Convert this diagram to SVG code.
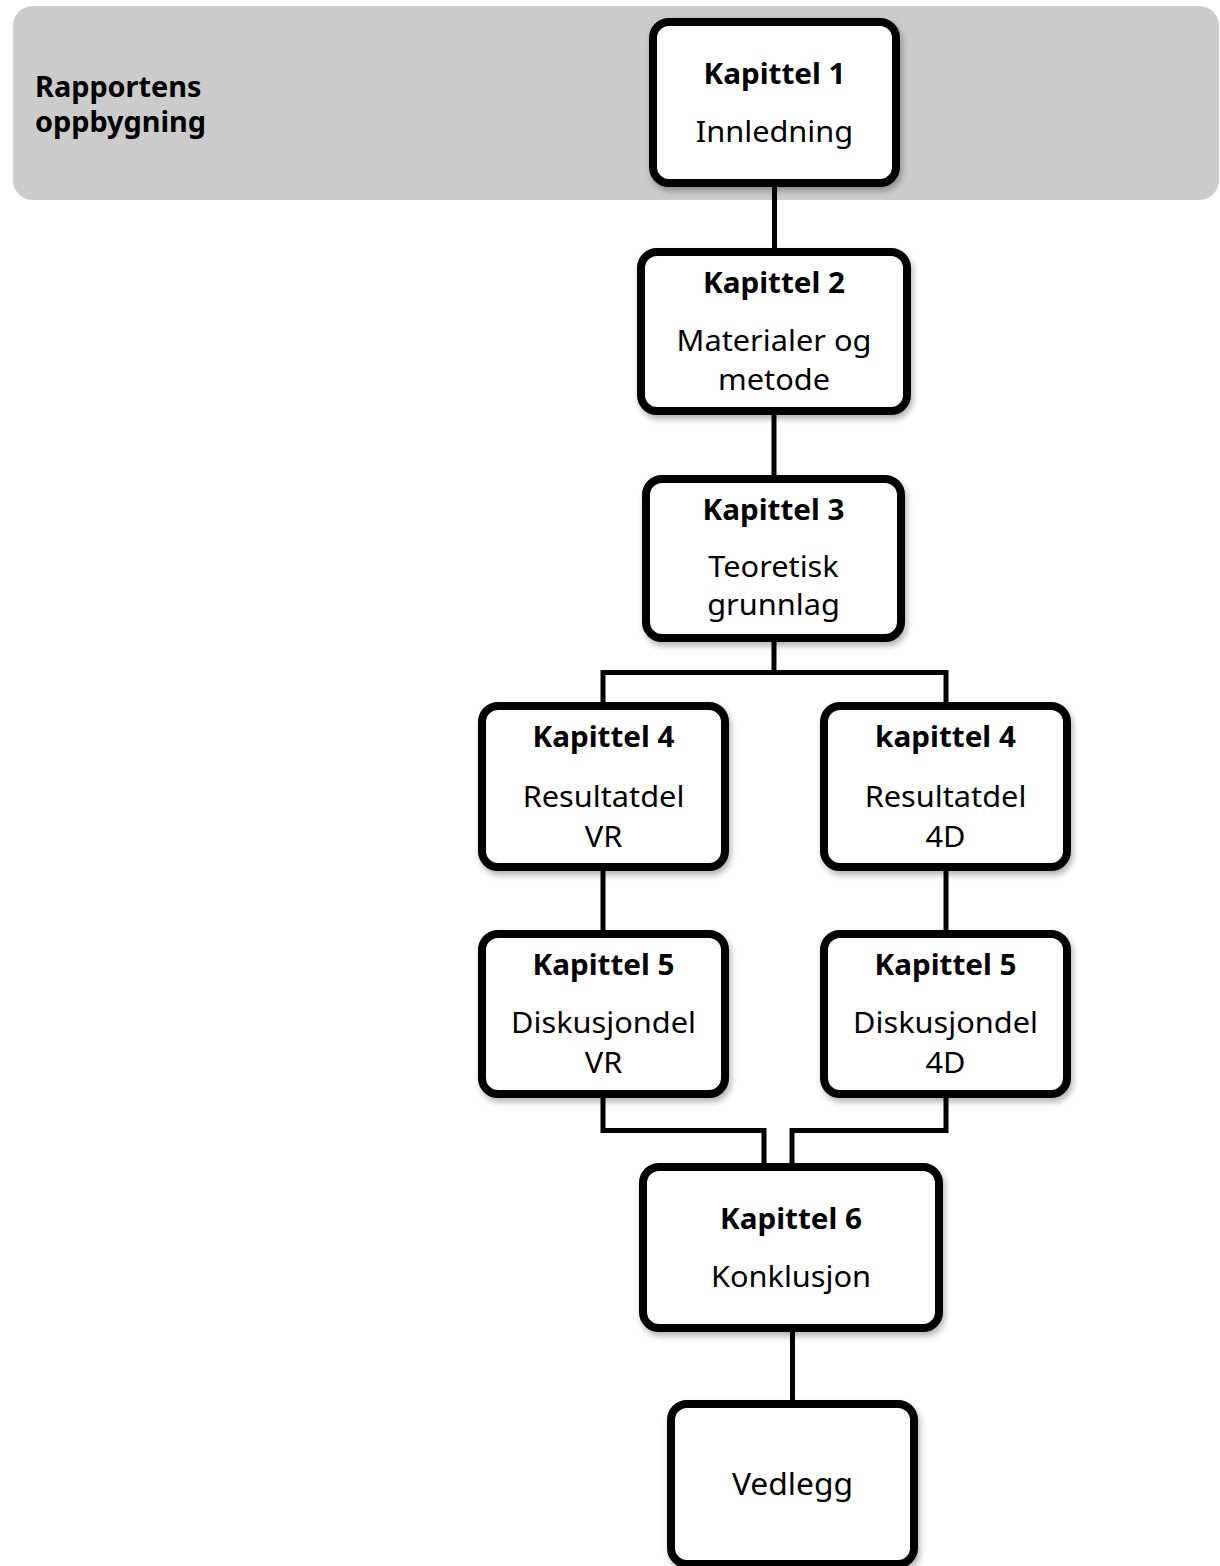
<svg xmlns="http://www.w3.org/2000/svg" width="1220" height="1566" viewBox="0 0 1220 1566">
<defs>
<style>
.box{fill:#ffffff;stroke:#000000;stroke-width:8;filter:url(#sh)}
.con{fill:none;stroke:#000000;stroke-width:5;stroke-linejoin:miter;stroke-linecap:butt}
.b{font-family:"Noto Sans","Open Sans","DejaVu Sans",sans-serif;font-weight:bold;font-size:28px;fill:#000;text-anchor:middle}
.r{font-family:"Noto Sans","Open Sans","DejaVu Sans",sans-serif;font-size:29px;fill:#000;text-anchor:middle}
.t{font-family:"Noto Sans","Open Sans","DejaVu Sans",sans-serif;font-weight:bold;font-size:28px;fill:#000}
</style>
<filter id="sh" x="-10%" y="-10%" width="125%" height="130%">
<feDropShadow dx="2" dy="4" stdDeviation="3" flood-color="#000" flood-opacity="0.3"/>
</filter>
</defs>
<rect id="band" x="13" y="6" width="1206" height="194" rx="20" fill="#cbcbcb"/>
<g id="title" transform="scale(1.03 1)">
<text class="t" x="34" y="97">Rapportens</text>
<text class="t" x="34" y="132">oppbygning</text>
</g>
<g id="connectors">
<path class="con" d="M774.5 187 V248"/>
<path class="con" d="M774 415 V475"/>
<path class="con" d="M774 642 V672.5 M603 702 V672.5 H946 V702"/>
<path class="con" d="M603 871 V930"/>
<path class="con" d="M946 871 V930"/>
<path class="con" d="M603 1098 V1130.5 H764 V1163"/>
<path class="con" d="M946 1098 V1130.5 H792 V1163"/>
<path class="con" d="M792.5 1332 V1400"/>
</g>
<g id="kap1">
<rect class="box" x="653" y="22" width="243" height="161" rx="16"/>
<g transform="translate(774.5 0) scale(1.06 1)">
<text class="b" x="0" y="84">Kapittel 1</text>
<text class="r" x="0" y="142">Innledning</text>
</g>
</g>
<g id="kap2">
<rect class="box" x="641" y="252" width="266" height="159" rx="16"/>
<g transform="translate(774 0) scale(1.06 1)">
<text class="b" x="0" y="293">Kapittel 2</text>
<text class="r" x="0" y="351">Materialer og</text>
<text class="r" x="0" y="390">metode</text>
</g>
</g>
<g id="kap3">
<rect class="box" x="646" y="479" width="255" height="159" rx="16"/>
<g transform="translate(773.5 0) scale(1.06 1)">
<text class="b" x="0" y="520">Kapittel 3</text>
<text class="r" x="0" y="577">Teoretisk</text>
<text class="r" x="0" y="615">grunnlag</text>
</g>
</g>
<g id="kap4vr">
<rect class="box" x="482" y="706" width="243" height="161" rx="16"/>
<g transform="translate(603.5 0) scale(1.06 1)">
<text class="b" x="0" y="747">Kapittel 4</text>
<text class="r" x="0" y="807">Resultatdel</text>
<text class="r" x="0" y="847">VR</text>
</g>
</g>
<g id="kap4_4d">
<rect class="box" x="824" y="706" width="243" height="161" rx="16"/>
<g transform="translate(945.5 0) scale(1.06 1)">
<text class="b" x="0" y="747">kapittel 4</text>
<text class="r" x="0" y="807">Resultatdel</text>
<text class="r" x="0" y="847">4D</text>
</g>
</g>
<g id="kap5vr">
<rect class="box" x="482" y="934" width="243" height="160" rx="16"/>
<g transform="translate(603.5 0) scale(1.06 1)">
<text class="b" x="0" y="975">Kapittel 5</text>
<text class="r" x="0" y="1033">Diskusjondel</text>
<text class="r" x="0" y="1073">VR</text>
</g>
</g>
<g id="kap5_4d">
<rect class="box" x="824" y="934" width="243" height="160" rx="16"/>
<g transform="translate(945.5 0) scale(1.06 1)">
<text class="b" x="0" y="975">Kapittel 5</text>
<text class="r" x="0" y="1033">Diskusjondel</text>
<text class="r" x="0" y="1073">4D</text>
</g>
</g>
<g id="kap6">
<rect class="box" x="643" y="1167" width="296" height="161" rx="16"/>
<g transform="translate(791 0) scale(1.06 1)">
<text class="b" x="0" y="1229">Kapittel 6</text>
<text class="r" x="0" y="1287">Konklusjon</text>
</g>
</g>
<g id="vedlegg">
<rect class="box" x="671" y="1404" width="243" height="160" rx="16"/>
<g transform="translate(792.5 0) scale(1.06 1)">
<text class="r" x="0" y="1495" style="font-size:30px">Vedlegg</text>
</g>
</g>
</svg>
